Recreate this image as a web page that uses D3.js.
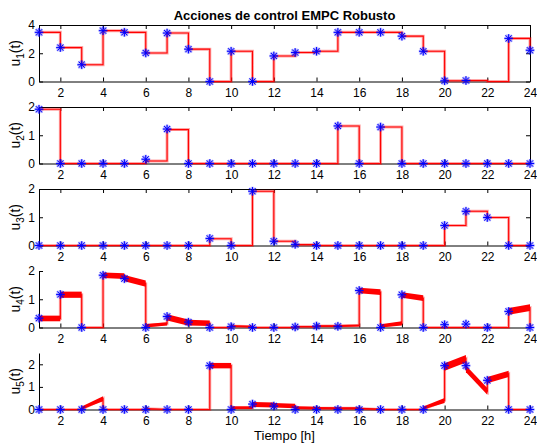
<!DOCTYPE html>
<html>
<head>
<meta charset="utf-8">
<script src="https://cdn.jsdelivr.net/npm/d3@7"></script>
<style>
  body { margin: 0; background: #fff; }
  .tick text { fill: #000; }
</style>
</head>
<body>
<div id="chart"></div>
<script>
// hours 1..24, markers at each hour, intervals [k, k+1] for k = 1..23
const hours = d3.range(1, 25);
const xTicks = d3.range(2, 25, 2);

const u1Marks  = [3.48, 2.4, 1.19, 3.6, 3.48, 2.02, 3.43, 2.29, 0, 2.14, 0, 1.81, 2.05, 2.14, 3.48, 3.48, 3.48, 3.21, 2.14, 0.05, 0.07, null, 3.05, 2.21];
const u1Levels = [3.48, 2.4, 1.19, 3.6, 3.48, 2.02, 3.43, 2.29, 0, 2.14, 0, 1.81, 2.05, 2.14, 3.48, 3.48, 3.48, 3.21, 2.14, 0.05, 0.07, 0, 3.05];

const u2Marks  = [1.92, 0, 0, 0, 0, 0.15, 1.22, 0, 0, 0, 0, 0, 0, 0, 1.33, 0, 1.29, 0, 0, 0, 0, 0, 0, 0];
const u2Levels = [1.92, 0, 0, 0, 0, 0.09, 1.2, 0, 0, 0, 0, 0, 0, 0, 1.33, 0, 1.29, 0, 0, 0, 0, 0, 0];

const u3Marks  = [0, 0, 0, 0, 0, 0, 0, 0, 0.25, 0, 1.92, 0.15, 0.04, 0, 0, 0, 0, 0, 0, 0.71, 1.21, 0.99, 0, 0];
const u3Levels = [0, 0, 0, 0, 0, 0, 0, 0, 0.24, 0, 1.92, 0.15, 0.03, 0, 0, 0, 0, 0, 0, 0.71, 1.21, 0.99, 0];

// u4, u5: band of trajectories per interval (centre at start, centre at end, spread)
const u4Marks = [0.33, 1.17, 0, 1.85, 1.73, 0, 0.39, 0.19, 0, 0.03, 0, 0, 0.02, 0.05, 0.04, 1.31, 0, 1.16, 0, 0.1, 0.12, 0, 0.57, 0];
const u4From  = [0.32, 1.16, 0, 1.85, 1.75, 0.06, 0.36, 0.17, 0, 0.05, 0, 0, 0.03, 0.05, 0.05, 1.31, 0.04, 1.15, 0, 0, 0, 0, 0.57];
const u4To    = [0.32, 1.16, 0, 1.82, 1.55, 0.13, 0.17, 0.15, 0, 0.03, 0, 0, 0.03, 0.05, 0.07, 1.25, 0.15, 1.04, 0, 0, 0, 0, 0.7];
const u4Width = [0.2, 0.22, 0, 0.2, 0.22, 0.12, 0.22, 0.2, 0, 0.06, 0, 0, 0.04, 0.06, 0.07, 0.2, 0.15, 0.2, 0, 0, 0, 0, 0.24];

const u5Marks = [0, 0, 0, 0, 0, 0, 0, 0, 1.94, 0, 0.24, 0.15, 0, 0, 0, 0, 0, 0, 0, 1.94, 1.94, 1.29, 0, 0];
const u5From  = [0, 0, 0.02, 0, 0, 0.03, 0, 0, 1.94, 0.08, 0.22, 0.19, 0.08, 0.06, 0.05, 0.04, 0, 0, 0.02, 1.88, 1.8, 1.3, 0];
const u5To    = [0, 0, 0.48, 0, 0, 0, 0, 0, 1.94, 0.08, 0.2, 0.15, 0.06, 0.05, 0.05, 0, 0, 0, 0.4, 2.25, 0.8, 1.58, 0];
const u5Width = [0, 0, 0.22, 0, 0, 0.05, 0, 0, 0.24, 0.12, 0.22, 0.2, 0.12, 0.1, 0.1, 0.08, 0, 0, 0.22, 0.33, 0.3, 0.28, 0];

const panels = [
  { name: "1", marks: u1Marks, from: u1Levels, to: u1Levels, width: null, ylim: [0, 4], yticks: [0, 2, 4], box: true },
  { name: "2", marks: u2Marks, from: u2Levels, to: u2Levels, width: null, ylim: [0, 2], yticks: [0, 1, 2], box: true },
  { name: "3", marks: u3Marks, from: u3Levels, to: u3Levels, width: null, ylim: [0, 2], yticks: [0, 1, 2], box: true },
  { name: "4", marks: u4Marks, from: u4From, to: u4To, width: u4Width, ylim: [0, 2], yticks: [0, 1, 2], box: false },
  { name: "5", marks: u5Marks, from: u5From, to: u5To, width: u5Width, ylim: [0, 2.5], yticks: [0, 1, 2], box: false }
];

const W = 537, H = 446;
const left = 39, right = 530, plotH = 56.5;
const tops = [25, 107, 189, 271, 353];
const font = "'Liberation Sans', Arial, Helvetica, sans-serif";

const svg = d3.select("#chart").append("svg")
  .attr("width", W)
  .attr("height", H)
  .style("font-family", font);

const x = d3.scaleLinear().domain([1, 24]).range([left, right]);

svg.append("text")
  .attr("x", (left + right) / 2)
  .attr("y", 20)
  .attr("text-anchor", "middle")
  .style("font-size", "13px")
  .style("font-weight", "bold")
  .text("Acciones de control EMPC Robusto");

function star(r) {
  const d = r * 0.72;
  return `M${-r},0H${r}M0,${-r}V${r}M${-d},${-d}L${d},${d}M${-d},${d}L${d},${-d}`;
}

panels.forEach((p, i) => {
  const top = tops[i], bottom = top + plotH;
  const y = d3.scaleLinear().domain(p.ylim).range([bottom, top]);
  const g = svg.append("g");

  // axes
  g.append("g")
    .attr("transform", `translate(0,${bottom})`)
    .call(d3.axisBottom(x).tickValues(xTicks).tickFormat(d3.format("d")).tickSizeInner(-4).tickSizeOuter(0).tickPadding(7));
  g.append("g")
    .attr("transform", `translate(${left},0)`)
    .call(d3.axisLeft(y).tickValues(p.yticks).tickFormat(d3.format("d")).tickSizeInner(-4).tickSizeOuter(0).tickPadding(4));
  if (p.box) {
    g.append("g")
      .attr("transform", `translate(0,${top})`)
      .call(d3.axisTop(x).tickValues(xTicks).tickSizeInner(-4).tickSizeOuter(0).tickFormat(""));
    g.append("g")
      .attr("transform", `translate(${right},0)`)
      .call(d3.axisRight(y).tickValues(p.yticks).tickSizeInner(-4).tickSizeOuter(0).tickFormat(""));
  }
  g.selectAll(".tick text").style("font-size", "12px").style("font-family", font);
  g.selectAll(".domain, .tick line").attr("stroke", "#000").attr("stroke-width", 1);

  // y label u_i(t)
  const lab = g.append("text")
    .attr("transform", `translate(20,${(top + bottom) / 2}) rotate(-90)`)
    .attr("text-anchor", "middle")
    .style("font-size", "14px");
  lab.append("tspan").text("u");
  lab.append("tspan").attr("dy", 4).style("font-size", "10px").text(p.name);
  lab.append("tspan").attr("dy", -4).text("(t)");

  const segs = p.from.map((a, k) => ({ k: k + 1, a: a, b: p.to[k], w: p.width ? p.width[k] : 0 }));

  // trajectory bands
  g.selectAll(".band")
    .data(segs.filter(s => s.w > 0))
    .enter().append("path")
    .attr("class", "band")
    .attr("fill", "#ff0000")
    .attr("d", s => d3.line()([
      [x(s.k), y(Math.max(0, s.a - s.w / 2))],
      [x(s.k + 1), y(Math.max(0, s.b - s.w / 2))],
      [x(s.k + 1), y(s.b + s.w / 2)],
      [x(s.k), y(s.a + s.w / 2)]
    ]) + "Z");

  // stairs path with connectors
  const pts = [];
  segs.forEach(s => {
    pts.push([s.k, s.a], [s.k + 1, s.b]);
  });
  const last = p.marks[p.marks.length - 1];
  if (last !== null) pts.push([24, last]);
  const line = d3.line().x(d => x(d[0])).y(d => y(d[1]));

  g.append("path")
    .attr("d", line(pts))
    .attr("fill", "none")
    .attr("stroke", "#ff0000")
    .attr("stroke-opacity", 0.35)
    .attr("stroke-width", 3);
  g.append("path")
    .attr("d", line(pts))
    .attr("fill", "none")
    .attr("stroke", "#ff0000")
    .attr("stroke-width", 1.1);

  // markers
  const mk = g.selectAll(".mk")
    .data(hours.map((h, j) => ({ h: h, v: p.marks[j] })).filter(d => d.v !== null))
    .enter().append("g")
    .attr("class", "mk")
    .attr("transform", d => `translate(${x(d.h)},${y(d.v)})`);
  mk.append("path").attr("d", star(4.5)).attr("stroke", "#0000ff").attr("stroke-opacity", 0.35).attr("stroke-width", 2.4).attr("fill", "none");
  mk.append("path").attr("d", star(4.2)).attr("stroke", "#0000ff").attr("stroke-width", 1).attr("fill", "none");
});

svg.append("text")
  .attr("x", (left + right) / 2)
  .attr("y", 440)
  .attr("text-anchor", "middle")
  .style("font-size", "13px")
  .text("Tiempo [h]");
</script>
</body>
</html>
